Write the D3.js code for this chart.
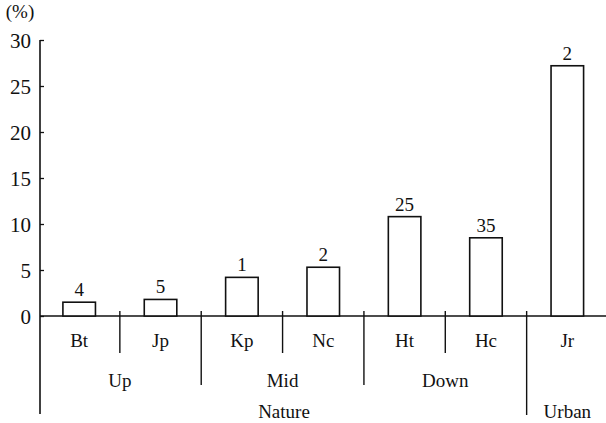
<!DOCTYPE html>
<html>
<head>
<meta charset="utf-8">
<script src="https://cdn.jsdelivr.net/npm/d3@7"></script>
<style>
  body { margin: 0; background: #fff; }
  text { font-family: "Liberation Serif", "Times New Roman", serif; fill: #111; }
</style>
</head>
<body>
<svg width="606" height="423"></svg>
<script>
  // data
  var categories = ["Bt", "Jp", "Kp", "Nc", "Ht", "Hc", "Jr"];
  var values = [1.5, 1.8, 4.2, 5.3, 10.8, 8.5, 27.2];
  var counts = ["4", "5", "1", "2", "25", "35", "2"];
  var yTicks = [0, 5, 10, 15, 20, 25, 30];
  // sub groups: [label, first cat, last cat]
  var subGroups = [["Up", 0, 1], ["Mid", 2, 3], ["Down", 4, 5]];
  var mainGroups = [["Nature", 0, 5], ["Urban", 6, 6]];

  var svg = d3.select("svg");
  var x0 = 40, y0 = 316;

  var x = d3.scaleBand().domain(categories).range([38.5, 608]).paddingInner(0.6).paddingOuter(0.3);
  var y = d3.scaleLinear().domain([0, 30]).range([y0, 40]);
  var step = x.step();
  function left(i) { return x(categories[i]) + x.bandwidth() / 2 - step / 2; }
  function right(i) { return x(categories[i]) + x.bandwidth() / 2 + step / 2; }

  // y axis
  var yAxis = d3.axisLeft(y).tickValues(yTicks).tickSize(-4).tickPadding(9).tickFormat(d3.format("d"));
  var gy = svg.append("g").attr("transform", "translate(" + x0 + ",0)").call(yAxis);
  gy.select(".domain").remove();
  gy.selectAll("line").attr("stroke", "#111").attr("stroke-width", 1.3);
  gy.selectAll("text").style("font-size", "21px").attr("dy", "0.35em");
  svg.append("line").attr("x1", x0).attr("x2", x0).attr("y1", y(30)).attr("y2", 414)
    .attr("stroke", "#111").attr("stroke-width", 1.6);
  svg.append("text").attr("x", 20).attr("y", 18).attr("text-anchor", "middle")
    .style("font-size", "19px").text("(%)");

  // baseline
  svg.append("line").attr("x1", x0).attr("x2", 606).attr("y1", y0).attr("y2", y0)
    .attr("stroke", "#111").attr("stroke-width", 1.4);

  // bars
  svg.append("g").selectAll("rect").data(categories).enter().append("rect")
    .attr("x", function(d) { return x(d); })
    .attr("width", x.bandwidth())
    .attr("y", function(d, i) { return y(values[i]); })
    .attr("height", function(d, i) { return y0 - y(values[i]); })
    .attr("fill", "#fff").attr("stroke", "#111").attr("stroke-width", 1.6);

  svg.append("g").selectAll("text").data(categories).enter().append("text")
    .attr("x", function(d) { return x(d) + x.bandwidth() / 2; })
    .attr("y", function(d, i) { return y(values[i]) - 6; })
    .attr("text-anchor", "middle").style("font-size", "19px")
    .text(function(d, i) { return counts[i]; });

  // category labels
  svg.append("g").selectAll("text").data(categories).enter().append("text")
    .attr("x", function(d) { return x(d) + x.bandwidth() / 2; })
    .attr("y", 347).attr("text-anchor", "middle").style("font-size", "19px")
    .text(function(d) { return d; });

  // separators: within subgroup, between subgroups, between main groups
  var seps = [[1, 353], [2, 385], [3, 353], [4, 385], [5, 353], [6, 415]];
  svg.append("g").selectAll("line").data(seps).enter().append("line")
    .attr("x1", function(d) { return left(d[0]); })
    .attr("x2", function(d) { return left(d[0]); })
    .attr("y1", 311).attr("y2", function(d) { return d[1]; })
    .attr("stroke", "#111").attr("stroke-width", 1.4);

  svg.append("g").selectAll("text").data(subGroups).enter().append("text")
    .attr("x", function(d) { return (left(d[1]) + right(d[2])) / 2; })
    .attr("y", 387).attr("text-anchor", "middle").style("font-size", "19px")
    .text(function(d) { return d[0]; });

  svg.append("g").selectAll("text").data(mainGroups).enter().append("text")
    .attr("x", function(d) { return d[0] === "Nature" ? 284 : x(categories[d[1]]) + x.bandwidth() / 2; })
    .attr("y", 418).attr("text-anchor", "middle").style("font-size", "19px")
    .text(function(d) { return d[0]; });
</script>
</body>
</html>
